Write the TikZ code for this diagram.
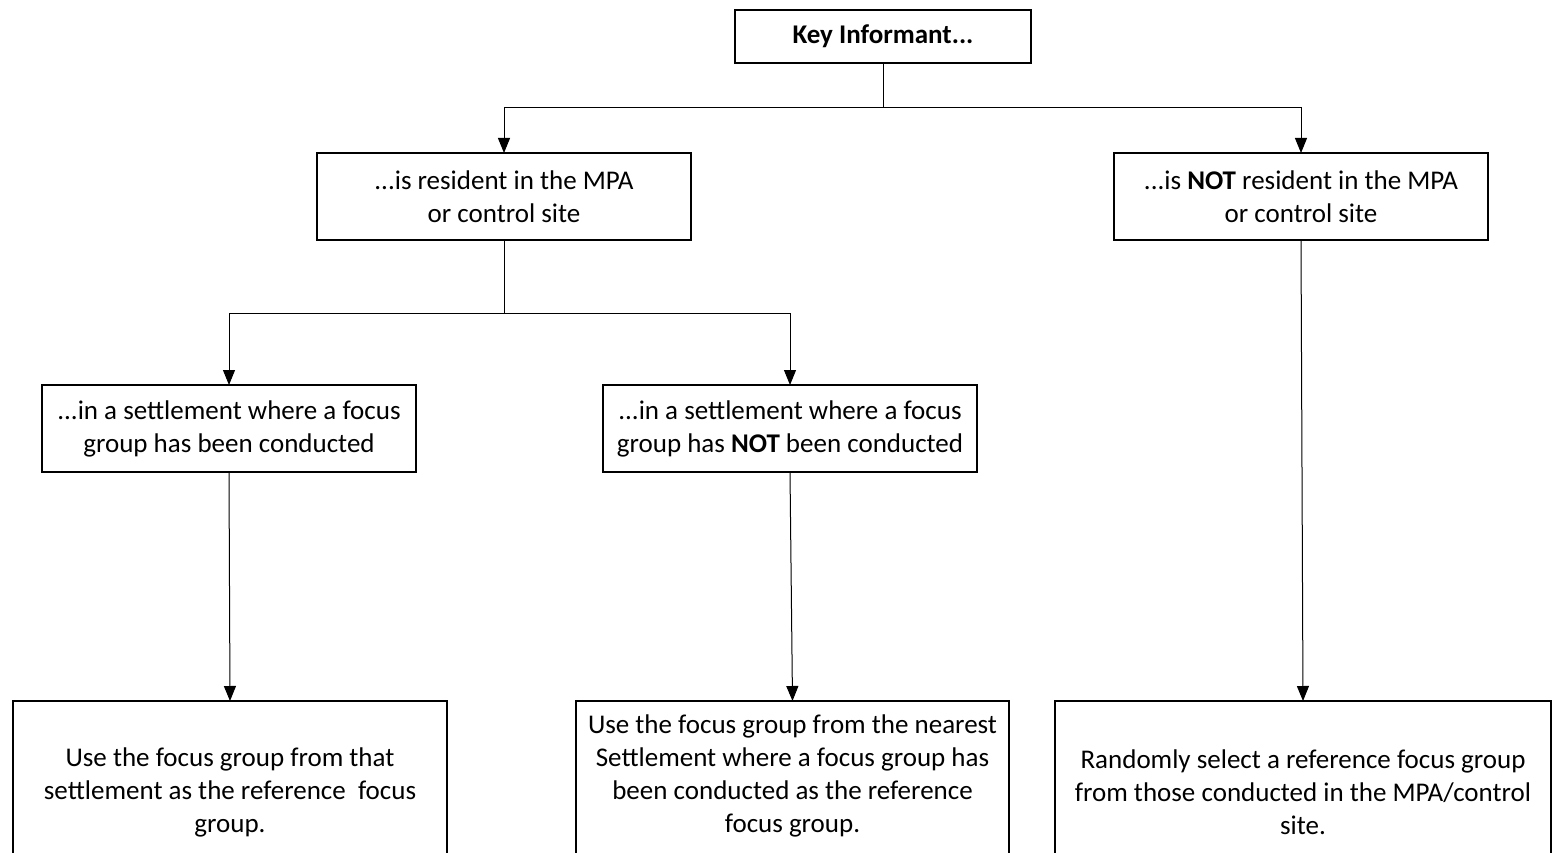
\documentclass[tikz,border=0pt]{standalone}
\usepackage{fontspec}
\setmainfont{Carlito}
\usetikzlibrary{arrows.meta}
\begin{document}
\begin{tikzpicture}[x=1pt,y=-1pt,
  box/.style={draw, line width=1.3pt, inner sep=0pt, outer sep=0pt},
  txt/.style={align=center, inner sep=0pt, font=\fontsize{27}{33}\selectfont},
  link/.style={line width=1pt, draw=black},
  arr/.style={link, -{Triangle[width=12pt,length=15pt]}}]
\useasboundingbox[fill=white] (0,0) rectangle (1564,853);

% decision boxes
\node[box, minimum width=296, minimum height=53, txt, font=\fontsize{27}{33}\selectfont\bfseries] (key) at (883,36.5) {Key Informant...};
\node[box, minimum width=374, minimum height=87, txt] (res) at (504,196.5) {...is resident in the MPA\\or control site};
\node[box, minimum width=374, minimum height=87, txt] (nres) at (1301,196.5) {...is \textbf{NOT} resident in the MPA\\or control site};
\node[box, minimum width=374, minimum height=87, txt] (fg) at (229,428.5) {...in a settlement where a focus\\group has been conducted};
\node[box, minimum width=374, minimum height=87, txt] (nfg) at (790,428.5) {...in a settlement where a focus\\group has \textbf{NOT} been conducted};

% outcome boxes, running past the lower edge
\node[box, minimum width=434, minimum height=200, anchor=north] (useA) at (230,701) {};
\node[box, minimum width=433, minimum height=200, anchor=north] (useB) at (792.5,701) {};
\node[box, minimum width=496, minimum height=200, anchor=north] (rand) at (1303,701) {};
\node[txt] (useAt) at (230,792) {Use the focus group from that\\settlement as the reference\ \ focus\\group.};
\node[txt] (useBt) at (792.5,775.5) {Use the focus group from the nearest\\Settlement where a focus group has\\been conducted as the reference\\focus group.};
\node[txt] (randt) at (1303,792) {Randomly select a reference focus group\\from those conducted in the MPA/control\\site.};

% connectors
\coordinate (j1) at (883,108);
\coordinate (j2) at (504,313);
\draw[link] (key.south) -- (j1);
\draw[arr] (j1) -| (res.north);
\draw[arr] (j1) -| (nres.north);
\draw[link] (res.south) -- (j2);
\draw[arr] (j2) -| (fg.north);
\draw[arr] (j2) -| (nfg.north);
\draw[arr] (fg.south) -- (useA.north);
\draw[arr] (nfg.south) -- (useB.north);
\draw[arr] (nres.south) -- (rand.north);
\end{tikzpicture}
\end{document}
